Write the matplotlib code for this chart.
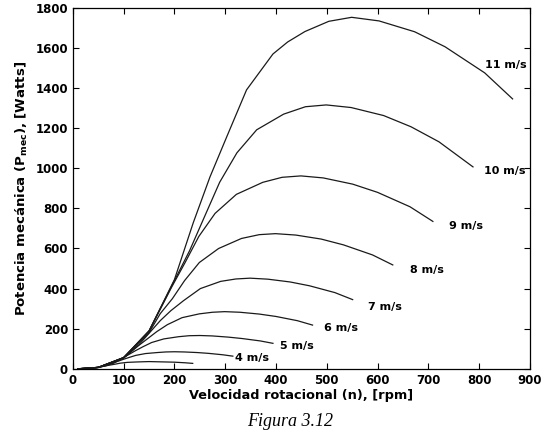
import numpy as np
import matplotlib
matplotlib.use("Agg")
import matplotlib.pyplot as plt

# curves: rotational speed (rpm) vs mechanical power (W), one per wind speed
n3 = [10, 30, 50, 65, 74, 83, 93, 107, 125, 150, 184, 200, 221, 236]
p3 = [0, 2, 7, 15, 19, 23, 28, 32, 34, 36, 34, 33, 30, 27]

n4 = [10, 40, 65, 86, 98, 110, 124, 143, 166, 183, 200, 219, 245, 267, 295, 315]
p4 = [0, 3, 15, 35, 46, 56, 67, 76, 81, 84, 85, 84, 81, 77, 70, 63]

n5 = [10, 50, 80, 108, 123, 138, 155, 179, 208, 229, 250, 274, 306, 333, 369, 394]
p5 = [0, 6, 28, 68, 90, 110, 131, 149, 160, 165, 166, 164, 158, 151, 139, 127]

n6 = [10, 50, 100, 129, 147, 165, 186, 215, 249, 275, 299, 329, 367, 400, 442, 472]
p6 = [0, 7, 54, 115, 150, 185, 220, 255, 274, 282, 285, 282, 273, 261, 240, 218]

n7 = [10, 50, 100, 130, 151, 172, 193, 218, 251, 291, 321, 349, 384, 428, 466, 516, 551]
p7 = [0, 7, 54, 120, 180, 240, 290, 340, 400, 436, 448, 452, 447, 433, 414, 380, 345]

n8 = [10, 50, 100, 150, 172, 196, 220, 249, 287, 332, 367, 399, 439, 489, 533, 590, 630]
p8 = [0, 7, 55, 180, 275, 350, 440, 530, 600, 650, 669, 674, 667, 647, 618, 568, 518]

n9 = [10, 50, 100, 150, 194, 221, 248, 280, 322, 374, 412, 449, 493, 551, 600, 664, 709]
p9 = [0, 7, 56, 188, 405, 530, 660, 775, 870, 930, 955, 962, 952, 921, 880, 808, 735]

n10 = [10, 50, 100, 150, 200, 230, 256, 289, 323, 362, 415, 458, 499, 548, 612, 666, 721, 788]
p10 = [0, 7, 56, 189, 440, 590, 740, 930, 1077, 1192, 1270, 1307, 1316, 1303, 1263, 1207, 1132, 1007]

n11 = [10, 50, 100, 150, 200, 237, 270, 303, 342, 394, 423, 457, 504, 549, 603, 673, 733, 811, 866]
p11 = [0, 7, 56, 189, 445, 728, 957, 1157, 1391, 1570, 1630, 1682, 1733, 1753, 1735, 1681, 1606, 1476, 1346]

labels = ["4 m/s", "5 m/s", "6 m/s", "7 m/s", "8 m/s", "9 m/s", "10 m/s", "11 m/s"]
label_x = [319, 408, 494, 581, 663, 740, 809, 811]
label_y = [55, 115, 204, 309, 494, 713, 987, 1516]

plt.rcParams['font.family'] = 'DejaVu Sans'
plt.rcParams['mathtext.default'] = 'bf'

fig = plt.figure(figsize=(5.44, 4.38), dpi=100)
ax = fig.add_axes([0.134, 0.158, 0.840, 0.824])

for n, p in [(n3, p3), (n4, p4), (n5, p5), (n6, p6), (n7, p7),
             (n8, p8), (n9, p9), (n10, p10), (n11, p11)]:
    ax.plot(n, p, color='#1a1a1a', lw=0.9)

for t, x, y in zip(labels, label_x, label_y):
    ax.text(x, y, t, fontsize=8, fontweight='bold', va='center', ha='left')

ax.set_xlim(0, 900)
ax.set_ylim(0, 1800)
ax.set_xticks(np.arange(0, 901, 100))
ax.set_yticks(np.arange(0, 1801, 200))
ax.tick_params(direction='in', top=True, right=True, length=4, width=0.8,
               labelsize=8.5)
for lab in ax.get_xticklabels() + ax.get_yticklabels():
    lab.set_fontweight('bold')
for s in ax.spines.values():
    s.set_linewidth(0.9)

ax.set_xlabel('Velocidad rotacional (n), [rpm]', fontsize=9.3,
              fontweight='bold', labelpad=2)
ax.set_ylabel('Potencia mecánica (P$_{mec}$), [Watts]', fontsize=9.5,
              fontweight='bold', labelpad=4)

fig.text(0.533, 0.018, 'Figura 3.12', fontsize=13, style='italic',
         family='Liberation Serif', ha='center', va='bottom')

fig.savefig('out.png', dpi=100)
